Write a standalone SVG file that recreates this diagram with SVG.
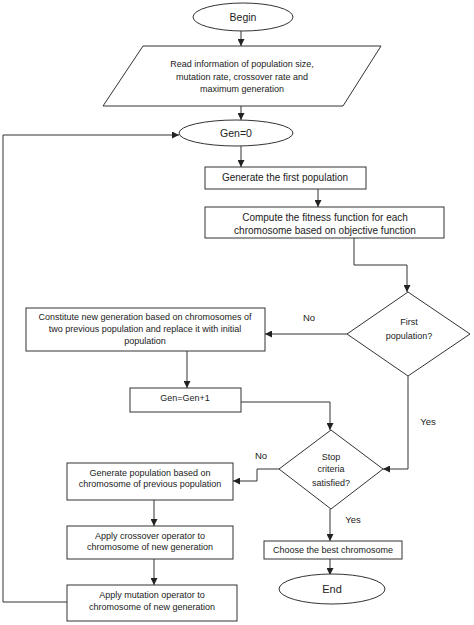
<svg xmlns="http://www.w3.org/2000/svg" width="474" height="625" viewBox="0 0 474 625">
<style>
.s{fill:#fff;stroke:#333;stroke-width:1}
.t{font-family:"Liberation Sans",Arial,sans-serif;font-size:9px;fill:#222;text-anchor:middle}
.l{font-family:"Liberation Sans",Arial,sans-serif;font-size:9.5px;fill:#222;text-anchor:middle}
.c{fill:none;stroke:#333;stroke-width:1}
</style>
<defs>
<marker id="a" viewBox="0 0 10 10" refX="10" refY="5" markerWidth="7" markerHeight="7" markerUnits="userSpaceOnUse" orient="auto">
<path d="M0,0L10,5L0,10z" fill="#222"/>
</marker>
</defs>
<rect width="474" height="625" fill="#fff"/>
<g id="connectors">
<path class="c" d="M241,31V46" marker-end="url(#a)"/>
<path class="c" d="M241,106V120" marker-end="url(#a)"/>
<path class="c" d="M241,146V167" marker-end="url(#a)"/>
<path class="c" d="M318,189V207" marker-end="url(#a)"/>
<path class="c" d="M354,238V265H407V292" marker-end="url(#a)"/>
<path class="c" d="M347,334H265" marker-end="url(#a)"/>
<path class="c" d="M187,351V388" marker-end="url(#a)"/>
<path class="c" d="M241,402H330V430" marker-end="url(#a)"/>
<path class="c" d="M408,376V469H383" marker-end="url(#a)"/>
<path class="c" d="M279,469H257V481H233" marker-end="url(#a)"/>
<path class="c" d="M154,500V526" marker-end="url(#a)"/>
<path class="c" d="M154,559V585" marker-end="url(#a)"/>
<path class="c" d="M67,602H3V135H179" marker-end="url(#a)"/>
<path class="c" d="M330,509V541" marker-end="url(#a)"/>
<path class="c" d="M330,559V575" marker-end="url(#a)"/>
<text class="l" x="309" y="321">No</text>
<text class="l" x="428" y="425">Yes</text>
<text class="l" x="261" y="459">No</text>
<text class="l" x="353" y="523">Yes</text>
</g>
<g id="begin">
<ellipse class="s" cx="243" cy="17" rx="50" ry="14"/>
<text class="l" x="243" y="21" style="font-size:10.5px">Begin</text>
</g>
<g id="read">
<path class="s" d="M143,46H381L343,106H103Z"/>
<text class="t" x="242" y="67">Read information of population size,</text>
<text class="t" x="242" y="80">mutation rate, crossover rate and</text>
<text class="t" x="242" y="92">maximum generation</text>
</g>
<g id="gen0">
<ellipse class="s" cx="236" cy="133" rx="57" ry="13"/>
<text class="l" x="236" y="137" style="font-size:10.5px">Gen=0</text>
</g>
<g id="generate-first">
<rect class="s" x="205" y="167" width="161" height="22"/>
<text class="l" x="285" y="181" style="font-size:10px">Generate the first population</text>
</g>
<g id="compute">
<rect class="s" x="205" y="207" width="239" height="31"/>
<text class="l" x="325" y="221" style="font-size:10px">Compute the fitness function for each</text>
<text class="l" x="325" y="234" style="font-size:10px">chromosome based on objective function</text>
</g>
<g id="first-pop">
<path class="s" d="M408,292L470,334L408,376L347,334Z"/>
<text class="t" x="409" y="325">First</text>
<text class="t" x="409" y="339">population?</text>
</g>
<g id="constitute">
<rect class="s" x="26" y="308" width="239" height="43"/>
<text class="t" x="145" y="320">Constitute new generation based on chromosomes of</text>
<text class="t" x="145" y="332">two previous population and replace it with initial</text>
<text class="t" x="145" y="344">population</text>
</g>
<g id="gen-inc">
<rect class="s" x="130" y="388" width="111" height="24"/>
<text class="t" x="185" y="401">Gen=Gen+1</text>
</g>
<g id="stop">
<path class="s" d="M331,430L383,469L331,509L279,469Z"/>
<text class="t" x="331" y="460">Stop</text>
<text class="t" x="331" y="472">criteria</text>
<text class="t" x="331" y="486">satisfied?</text>
</g>
<g id="gen-pop">
<rect class="s" x="67" y="463" width="166" height="37"/>
<text class="t" x="150" y="476">Generate population based on</text>
<text class="t" x="150" y="487">chromosome of previous population</text>
</g>
<g id="crossover">
<rect class="s" x="67" y="526" width="166" height="33"/>
<text class="t" x="150" y="539">Apply crossover operator to</text>
<text class="t" x="150" y="550">chromosome of new generation</text>
</g>
<g id="mutation">
<rect class="s" x="67" y="585" width="170" height="36"/>
<text class="t" x="152" y="598">Apply mutation operator to</text>
<text class="t" x="152" y="610">chromosome of new generation</text>
</g>
<g id="choose">
<rect class="s" x="264" y="541" width="138" height="18"/>
<text class="l" x="333" y="553" style="font-size:9px">Choose the best chromosome</text>
</g>
<g id="end">
<ellipse class="s" cx="332" cy="589" rx="53" ry="15"/>
<text class="l" x="332" y="593" style="font-size:11px">End</text>
</g>
</svg>
